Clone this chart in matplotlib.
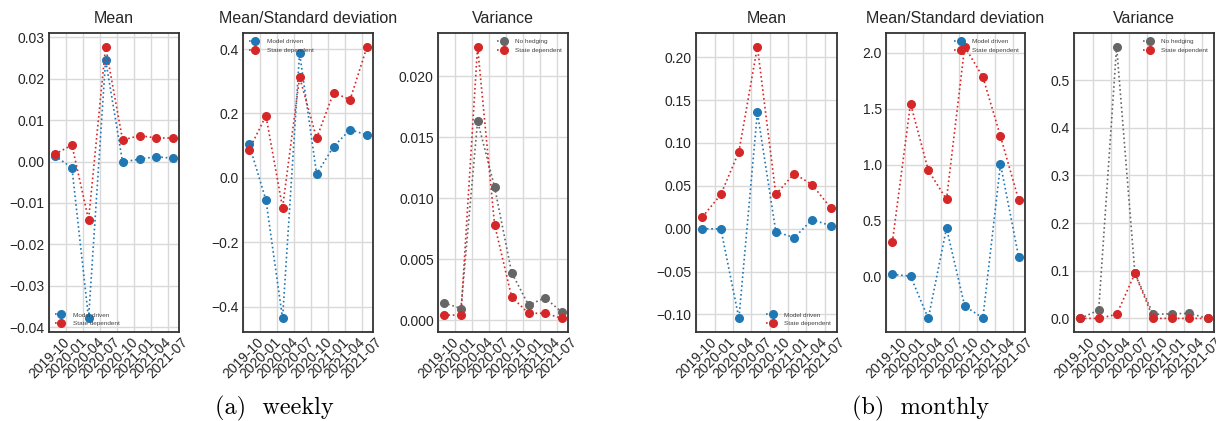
import matplotlib
matplotlib.use("Agg")
import matplotlib.pyplot as plt
import matplotlib.dates as mdates
import pandas as pd

plt.rcParams['font.family'] = ['Liberation Sans', 'DejaVu Sans']
plt.rcParams['axes.edgecolor'] = '#333333'
plt.rcParams['axes.linewidth'] = 1.3
plt.rcParams['grid.color'] = '#d9d9d9'
plt.rcParams['grid.linewidth'] = 1.0
plt.rcParams['xtick.major.size'] = 0
plt.rcParams['ytick.major.size'] = 0
plt.rcParams['text.color'] = '#262626'
plt.rcParams['xtick.color'] = '#262626'
plt.rcParams['ytick.color'] = '#262626'

dates = pd.to_datetime(['2019-10-31', '2020-01-31', '2020-04-30', '2020-07-31',
                        '2020-10-31', '2021-01-31', '2021-04-30', '2021-07-31'])

# weekly
w_mean_model = [0.0014, -0.0015, -0.0379, 0.0246, -0.0001, 0.0006, 0.0012, 0.0008]
w_mean_state = [0.0018, 0.0040, -0.0141, 0.0278, 0.0052, 0.0063, 0.0057, 0.0057]
w_ms_model = [0.106, -0.069, -0.437, 0.388, 0.012, 0.097, 0.150, 0.133]
w_ms_state = [0.086, 0.193, -0.093, 0.313, 0.123, 0.265, 0.243, 0.408]
w_var_nohedge = [0.00142, 0.00095, 0.01631, 0.01091, 0.0039, 0.00123, 0.00183, 0.00063]
w_var_state = [0.00041, 0.00041, 0.02242, 0.00783, 0.00191, 0.00055, 0.00057, 0.00014]

# monthly
m_mean_model = [0.0000, -0.0004, -0.1047, 0.1357, -0.0035, -0.0105, 0.0105, 0.0035]
m_mean_state = [0.0136, 0.0399, 0.0899, 0.2124, 0.0399, 0.0643, 0.0512, 0.0244]
m_ms_model = [0.018, 0.003, -0.375, 0.432, -0.265, -0.371, 1.004, 0.173]
m_ms_state = [0.304, 1.544, 0.948, 0.689, 2.054, 1.782, 1.252, 0.683]
m_var_nohedge = [0.0, 0.0175, 0.5706, 0.0944, 0.0084, 0.0098, 0.0105, 0.0]
m_var_state = [0.0, 0.0, 0.0084, 0.0944, 0.0, 0.0, 0.0, 0.0]

BLUE = '#1f77b4'
RED = '#d62728'
GRAY = '#666666'

W, H = 1216, 421
fig = plt.figure(figsize=(W / 100, H / 100), dpi=100)


def make_ax(x0, x1, y0=33, y1=332):
    return fig.add_axes([x0 / W, 1 - y1 / H, (x1 - x0) / W, (y1 - y0) / H])


def panel(ax, title, s1, s2, lab1, c1, loc):
    ax.plot(dates, s1, ':', marker='o', color=c1, ms=5.5, lw=1.2, label=lab1)
    ax.plot(dates, s2, ':', marker='o', color=RED, ms=5.5, lw=1.2, label='State dependent')
    ax.set_title(title, fontsize=11.5, pad=7)
    ax.grid(True)
    ax.xaxis.set_major_locator(mdates.MonthLocator(bymonth=[1, 4, 7, 10]))
    ax.xaxis.set_major_formatter(mdates.DateFormatter('%Y-%m'))
    ax.tick_params(axis='x', labelrotation=45, labelsize=10, pad=2)
    ax.tick_params(axis='y', labelsize=10, pad=3)
    leg = ax.legend(loc=loc, fontsize=4.6, frameon=False)
    for t in leg.get_texts():
        t.set_color('#444444')


panel(make_ax(49, 179), 'Mean', w_mean_model, w_mean_state, 'Model driven', BLUE, 'lower left')
panel(make_ax(243, 373), 'Mean/Standard deviation', w_ms_model, w_ms_state, 'Model driven', BLUE, 'upper left')
panel(make_ax(438, 568), 'Variance', w_var_nohedge, w_var_state, 'No hedging', GRAY, 'upper right')

panel(make_ax(696, 837), 'Mean', m_mean_model, m_mean_state, 'Model driven', BLUE, 'lower right')
panel(make_ax(886, 1025), 'Mean/Standard deviation', m_ms_model, m_ms_state, 'Model driven', BLUE, 'upper right')
panel(make_ax(1074, 1214), 'Variance', m_var_nohedge, m_var_state, 'No hedging', GRAY, 'upper right')

fig.text(274 / W, 1 - 408 / H, '(a)  weekly', family='cmr10', fontsize=17.5, ha='center', va='center', color='black')
fig.text(921 / W, 1 - 408 / H, '(b)  monthly', family='cmr10', fontsize=17.5, ha='center', va='center', color='black')

fig.savefig('out.png', dpi=100)
